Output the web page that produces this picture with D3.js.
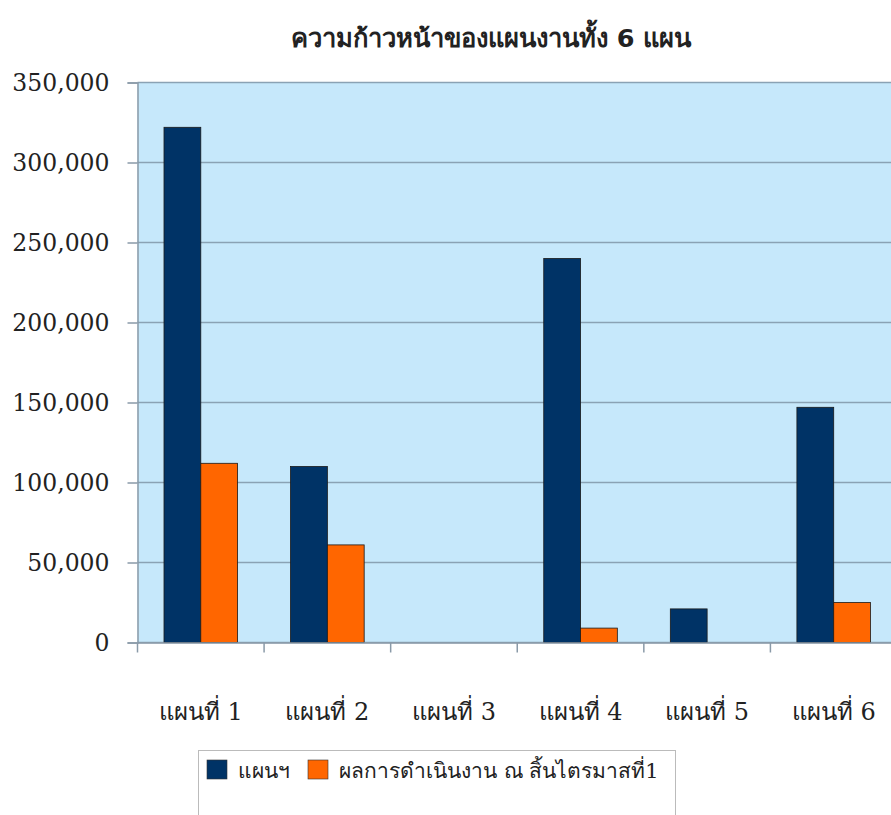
<!doctype html>
<html lang="th">
<head>
<meta charset="utf-8">
<title>ความก้าวหน้าของแผนงานทั้ง 6 แผน</title>
<style>
  body { margin: 0; background: #fff; }
  text { fill: #222; }
</style>
</head>
<body>
<script src="https://cdnjs.cloudflare.com/ajax/libs/d3/7.8.5/d3.min.js"></script>
<script>
// data
var categories = ["แผนที่ 1", "แผนที่ 2", "แผนที่ 3", "แผนที่ 4", "แผนที่ 5", "แผนที่ 6"];
var seriesNames = ["แผนฯ", "ผลการดำเนินงาน ณ สิ้นไตรมาสที่1"];
var planValues = [322000, 110000, 0, 240000, 21000, 147000];
var resultValues = [112000, 61000, 0, 9000, 0, 25000];
var yTicks = [0, 50000, 100000, 150000, 200000, 250000, 300000, 350000];
var colors = ["#003366", "#ff6600"];

var w = 891, h = 815;
var plotLeft = 137.5, plotRight = 897, plotTop = 82.5, plotBottom = 642.5;

var svg = d3.select("body").append("svg")
    .attr("width", w)
    .attr("height", h);

var x = d3.scaleBand().domain(categories).range([plotLeft, plotRight]).paddingInner(0).paddingOuter(0);
var x1 = d3.scaleBand().domain([0, 1]).range([0, x.bandwidth()]).paddingOuter(0.72).paddingInner(0);
var y = d3.scaleLinear().domain([0, 350000]).range([plotBottom, plotTop]);

// plot background
svg.append("rect")
    .attr("x", plotLeft).attr("y", plotTop)
    .attr("width", plotRight - plotLeft).attr("height", plotBottom - plotTop)
    .attr("fill", "#c6e8fb");

// grid lines
svg.append("g").selectAll("line")
    .data(yTicks)
    .enter().append("line")
    .attr("x1", plotLeft).attr("x2", plotRight)
    .attr("y1", function(d) { return y(d); })
    .attr("y2", function(d) { return y(d); })
    .attr("stroke", "#8aa2b4")
    .attr("stroke-width", 1.5);

// bars
var rows = categories.map(function(c, i) { return [planValues[i], resultValues[i]]; });
var groups = svg.append("g").selectAll("g")
    .data(rows)
    .enter().append("g")
    .attr("transform", function(d, i) { return "translate(" + x(categories[i]) + ",0)"; });

groups.selectAll("rect")
    .data(function(d) { return d.map(function(v, k) { return {k: k, v: v}; }); })
    .enter().filter(function(d) { return d.v > 0; })
    .append("rect")
    .attr("x", function(d) { return x1(d.k); })
    .attr("y", function(d) { return y(d.v); })
    .attr("width", x1.bandwidth())
    .attr("height", function(d) { return y(0) - y(d.v); })
    .attr("fill", function(d) { return colors[d.k]; })
    .attr("stroke", "#1a1a1a")
    .attr("stroke-width", 0.8);

// y axis
var yAxis = d3.axisLeft(y)
    .tickValues(yTicks)
    .tickSize(10)
    .tickPadding(18)
    .tickFormat(d3.format(","));
var gy = svg.append("g")
    .attr("transform", "translate(" + plotLeft + ",0)")
    .call(yAxis);
gy.select(".domain").attr("stroke", "#8a9aa8").attr("stroke-width", 1.5);
gy.selectAll(".tick line").attr("stroke", "#8a9aa8").attr("stroke-width", 1.5);
gy.selectAll(".tick text")
    .attr("font-family", "'DejaVu Serif', serif")
    .attr("font-size", 23.5)
    .attr("fill", "#2a2a2a");

// x axis
var xAxis = d3.axisBottom(x)
    .tickSize(0)
    .tickPadding(60);
var gx = svg.append("g")
    .attr("transform", "translate(0," + plotBottom + ")")
    .call(xAxis);
gx.select(".domain").attr("stroke", "#8a9aa8").attr("stroke-width", 1.5);
gx.selectAll(".tick text")
    .attr("font-family", "'DejaVu Serif', 'Noto Sans', serif")
    .attr("font-size", 24)
    .attr("fill", "#2a2a2a");
// category separator ticks
gx.selectAll("line.sep")
    .data(categories)
    .enter().append("line")
    .attr("class", "sep")
    .attr("x1", function(d) { return x(d); })
    .attr("x2", function(d) { return x(d); })
    .attr("y1", 0).attr("y2", 10)
    .attr("stroke", "#8a9aa8")
    .attr("stroke-width", 1.5);

// title
svg.append("text")
    .attr("x", 491).attr("y", 47)
    .attr("text-anchor", "middle")
    .attr("font-family", "'DejaVu Sans', 'Noto Sans', sans-serif")
    .attr("font-weight", "bold")
    .attr("font-size", 25.5)
    .attr("fill", "#222")
    .text("ความก้าวหน้าของแผนงานทั้ง 6 แผน");

// legend
var lg = svg.append("g");
lg.append("rect")
    .attr("x", 198.5).attr("y", 750.5)
    .attr("width", 477).attr("height", 80)
    .attr("fill", "#fff")
    .attr("stroke", "#bbb");
var legendX = [207, 308];
var item = lg.selectAll("g.item")
    .data(seriesNames)
    .enter().append("g")
    .attr("class", "item")
    .attr("transform", function(d, i) { return "translate(" + legendX[i] + ",760)"; });
item.append("rect")
    .attr("width", 20).attr("height", 19)
    .attr("fill", function(d, i) { return colors[i]; })
    .attr("stroke", "#333")
    .attr("stroke-width", 0.6);
item.append("text")
    .attr("x", 31).attr("y", 18)
    .attr("font-family", "'DejaVu Serif', 'Noto Sans', serif")
    .attr("font-size", 21)
    .attr("fill", "#222")
    .text(function(d) { return d; });
</script>
</body>
</html>
